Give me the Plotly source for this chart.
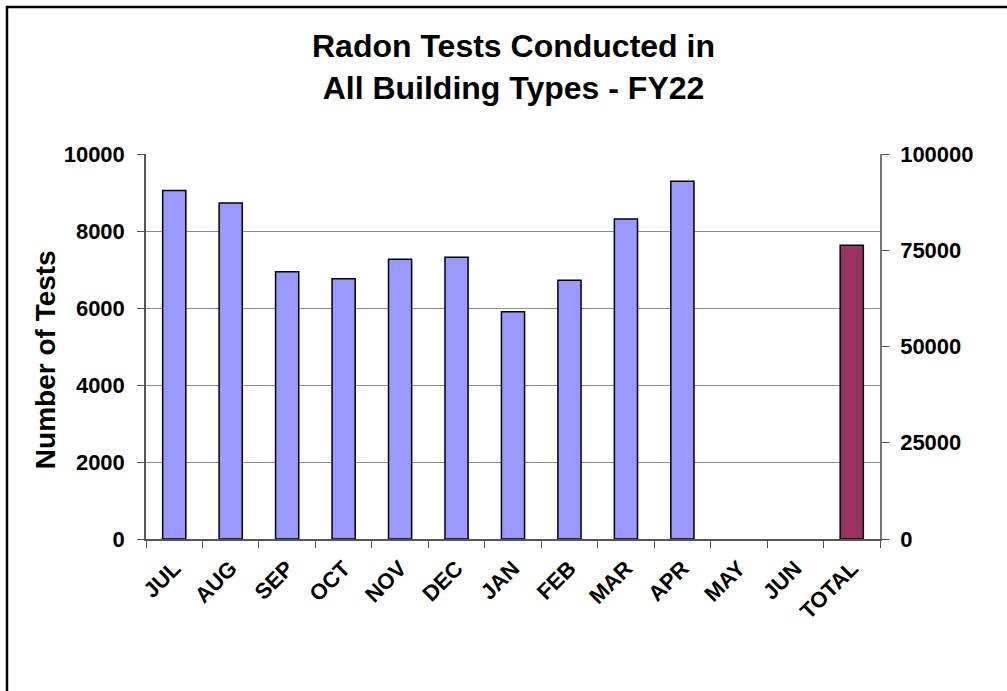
import plotly.graph_objects as go

# Radon tests per month, FY22
months = ['JUL', 'AUG', 'SEP', 'OCT', 'NOV', 'DEC', 'JAN', 'FEB', 'MAR', 'APR', 'MAY', 'JUN', 'TOTAL']
monthly_tests = [9050, 8730, 6940, 6760, 7265, 7315, 5905, 6720, 8310, 9290, None, None, None]
total_label = ['TOTAL']
total_tests = [76300]

left_ticks = [0, 2000, 4000, 6000, 8000, 10000]
right_ticks = [0, 25000, 50000, 75000, 100000]

FONT = 'Arial, Liberation Sans, sans-serif'

fig = go.Figure()
fig.add_trace(go.Bar(x=months, y=monthly_tests, yaxis='y',
                     width=0.41,
                     marker=dict(color='#9999FF', line=dict(color='black', width=1.5)),
                     showlegend=False))
fig.add_trace(go.Bar(x=total_label, y=total_tests, yaxis='y2',
                     width=0.41,
                     marker=dict(color='#993366', line=dict(color='black', width=1.5)),
                     showlegend=False))

tickfont = dict(family=FONT, size=22, color='black', weight='bold')

fig.update_layout(
    width=1007, height=691,
    margin=dict(l=146, r=127, t=154, b=152),
    paper_bgcolor='white', plot_bgcolor='white',
    barmode='overlay',
    font=dict(family=FONT, color='black'),
    xaxis=dict(categoryorder='array', categoryarray=months,
               tickangle=-45, tickfont=tickfont, ticklabelstandoff=6,
               showline=True, linecolor='#555555', linewidth=1.5,
               ticks='outside', ticklen=7, tickcolor='#555555',
               tickson='boundaries', showgrid=False),
    yaxis=dict(range=[0, 10000], tickvals=left_ticks, tickfont=tickfont,
               tickformat='d', ticklabelstandoff=8,
               showline=True, linecolor='#555555', linewidth=1.5,
               ticks='outside', ticklen=7, tickcolor='#555555',
               showgrid=True, gridcolor='#8c8c8c', gridwidth=1.2,
               zeroline=False),
    yaxis2=dict(range=[0, 100000], tickvals=right_ticks, tickfont=tickfont,
                tickformat='d', overlaying='y', side='right', ticklabelstandoff=7,
                showline=True, linecolor='#777777', linewidth=1.5,
                ticks='outside', ticklen=7, tickcolor='#555555',
                showgrid=False, zeroline=False),
    # inner halves of the crossing tick marks
    yaxis3=dict(range=[0, 10000], tickvals=left_ticks, overlaying='y', side='left',
                showticklabels=False, ticks='inside', ticklen=6, tickcolor='#555555',
                showline=False, showgrid=False, zeroline=False),
    yaxis4=dict(range=[0, 100000], tickvals=right_ticks, overlaying='y', side='right',
                showticklabels=False, ticks='inside', ticklen=6, tickcolor='#555555',
                showline=False, showgrid=False, zeroline=False),
    annotations=[
        dict(text='<b>Radon Tests Conducted in<br>All Building Types - FY22</b>',
             x=0.5, y=1.3325, xref='paper', yref='paper',
             xanchor='center', yanchor='top', showarrow=False,
             font=dict(family=FONT, size=32, color='black')),
        dict(text='<b>Number of Tests</b>', textangle=-90,
             x=-0.136, y=0.465, xref='paper', yref='paper',
             xanchor='center', yanchor='middle', showarrow=False,
             font=dict(family=FONT, size=28, color='black')),
    ],
    shapes=[dict(type='rect', xref='paper', yref='paper',
                 x0=-0.1894, x1=1.5, y0=-0.6, y1=1.3818,
                 line=dict(color='black', width=2.5), layer='below')],
)

fig.write_html('out.html', config={'displayModeBar': False},
               post_script="document.body.style.margin='0';")
